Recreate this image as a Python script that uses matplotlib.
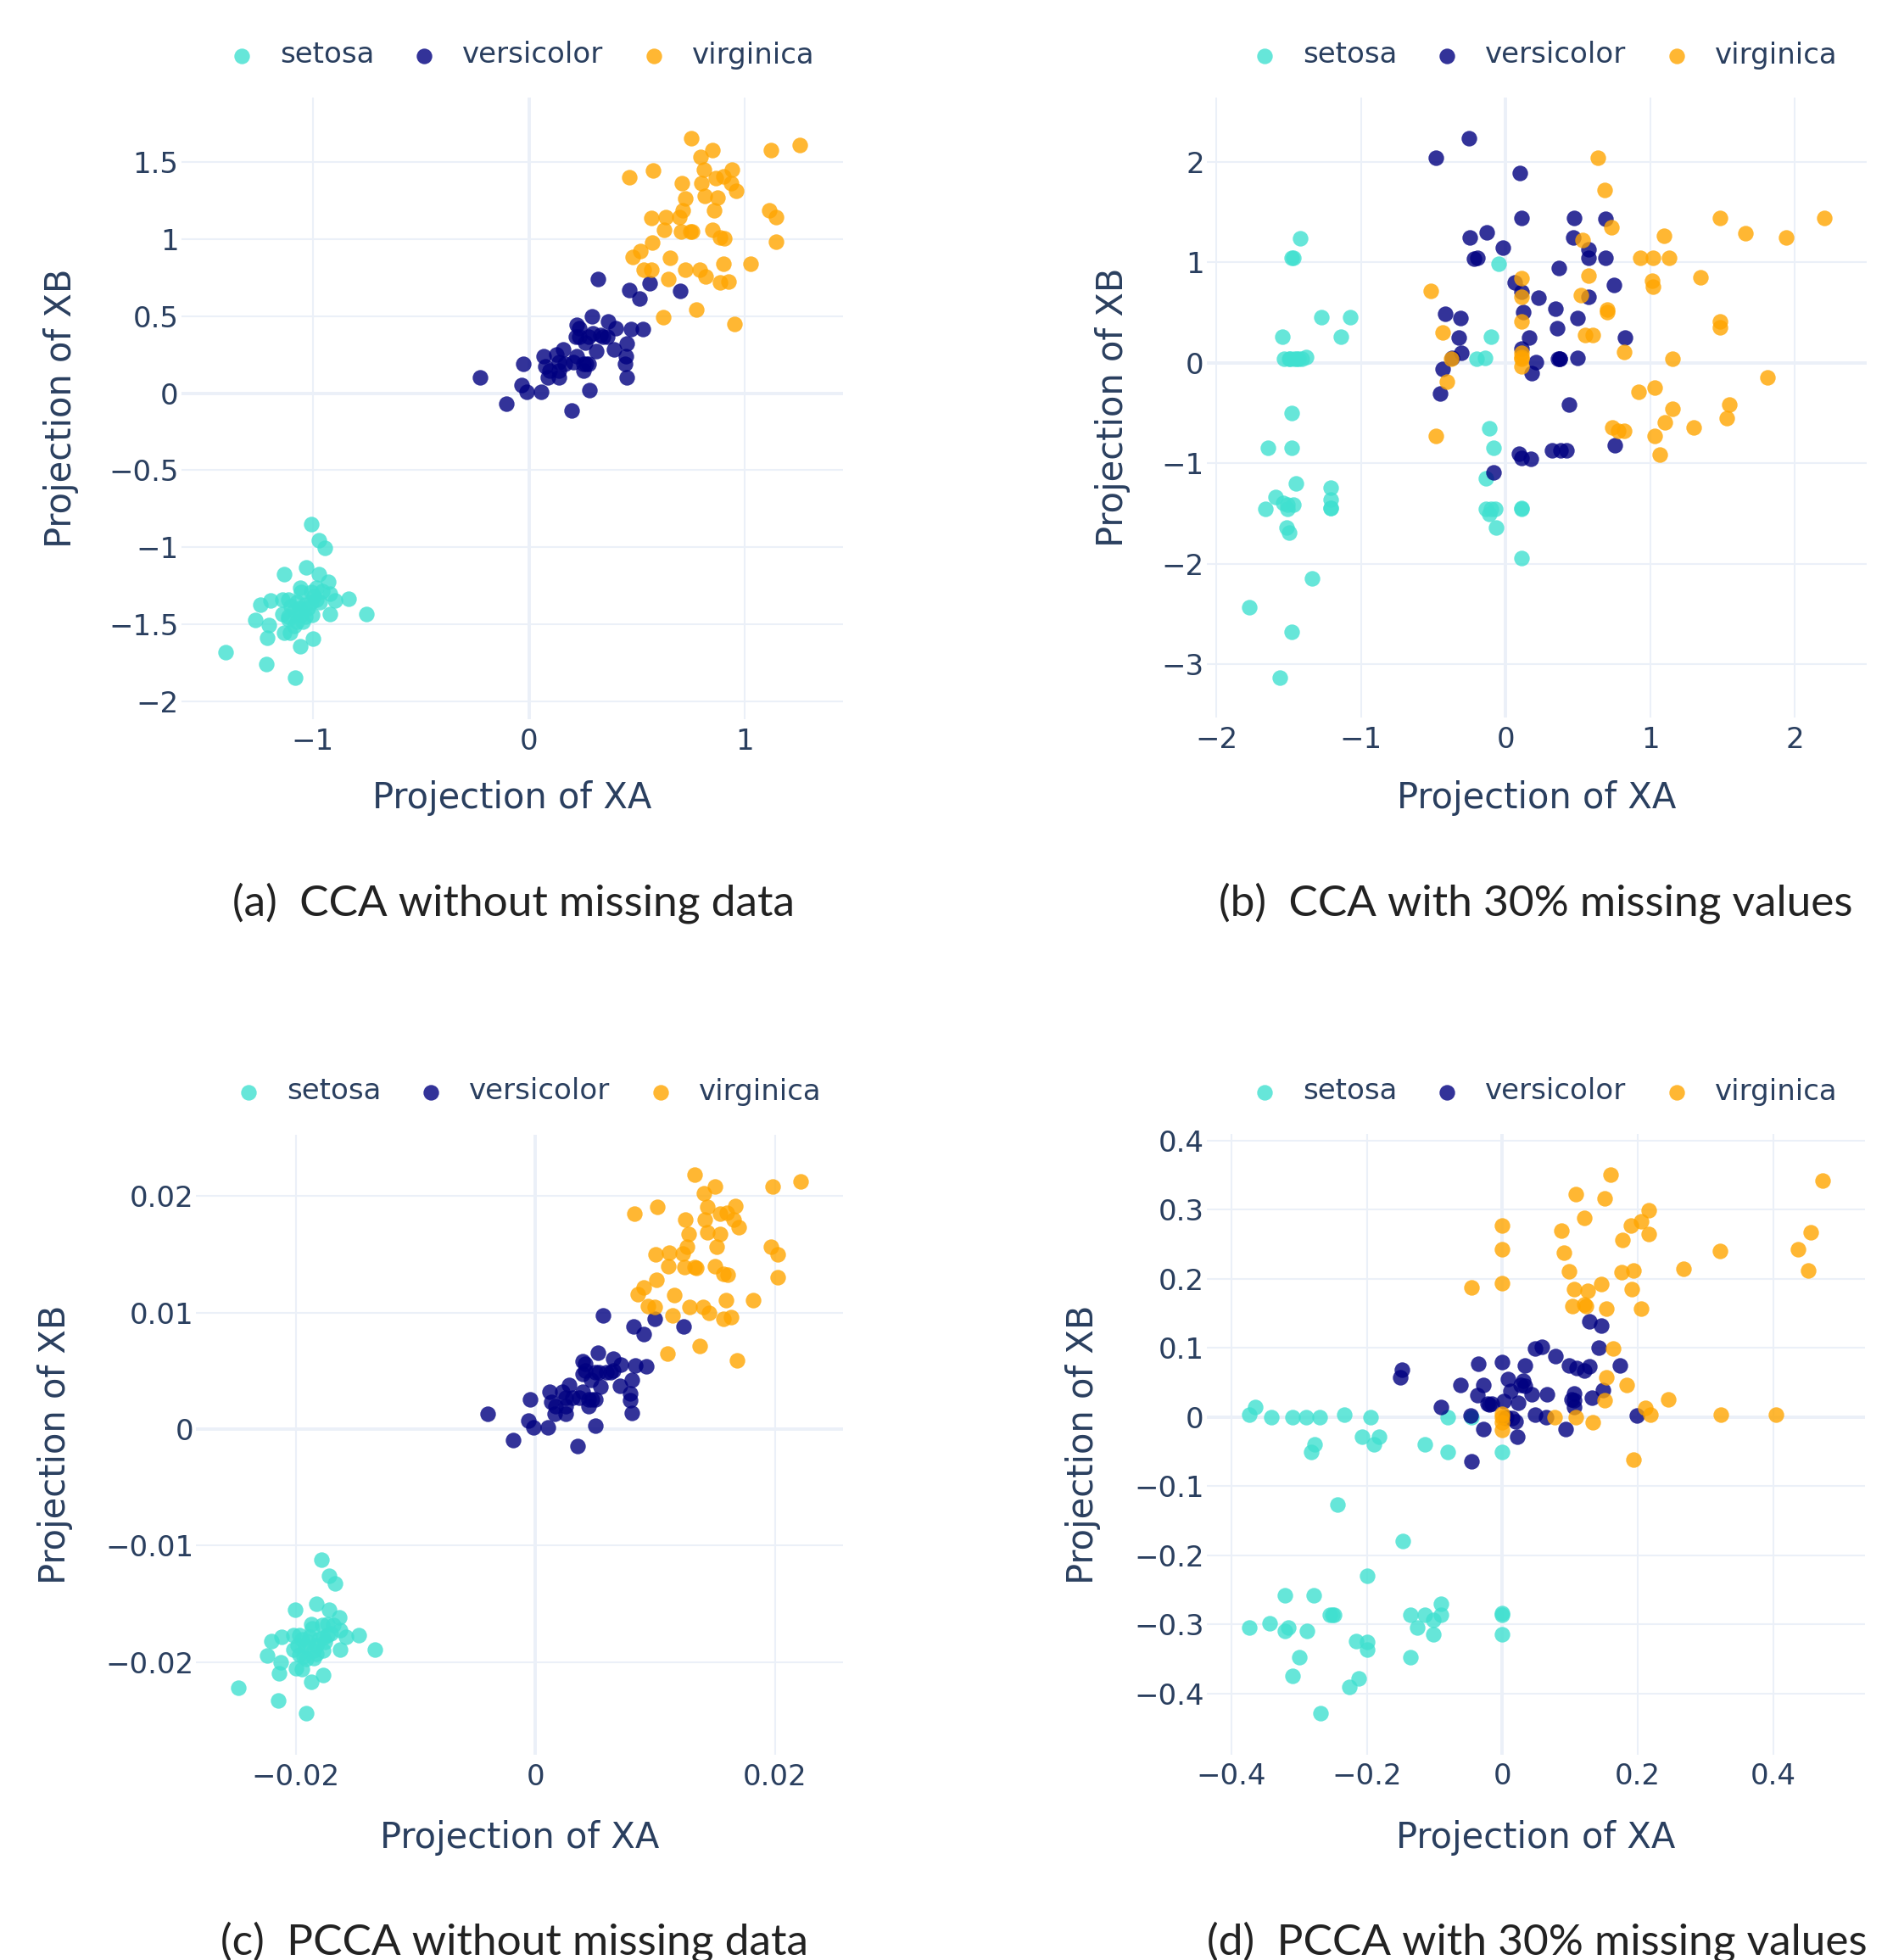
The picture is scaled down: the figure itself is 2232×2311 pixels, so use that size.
import matplotlib
matplotlib.use('Agg')
import matplotlib.pyplot as plt

# colours used by the traces
SETOSA = '#40E0D0'
VERSI = '#000080'
VIRGI = '#FFA500'
TXT = '#2a3f5f'
GRID = '#EBF0F8'

species = ['setosa', 'versicolor', 'virginica']

# ---------------- (a) CCA without missing data ----------------
a_setosa_x = [-1.008, -0.973, -0.942, -1.031, -1.132, -0.973, -0.929, -1.058, -0.982, -1.054, -0.919, -0.834, -1.194,
              -1.243, -1.139, -1.113, -0.897, -0.982, -1.073, -1.034, -0.995, -0.969, -0.753, -0.920, -1.267, -1.139,
              -1.086, -1.054, -1.001, -1.113, -1.201, -1.073, -1.034, -1.132, -1.106, -1.211, -0.999, -1.058, -1.403,
              -1.215, -1.080, -1.086, -1.060, -1.021, -1.099, -1.007, -1.047, -1.008, -0.956, -1.113]
a_setosa_y = [-0.848, -0.954, -1.006, -1.134, -1.173, -1.173, -1.226, -1.263, -1.266, -1.294, -1.303, -1.336, -1.349,
              -1.376, -1.340, -1.343, -1.349, -1.340, -1.358, -1.376, -1.321, -1.358, -1.432, -1.432, -1.472, -1.432,
              -1.413, -1.441, -1.441, -1.468, -1.509, -1.487, -1.450, -1.555, -1.555, -1.588, -1.597, -1.643, -1.680,
              -1.762, -1.850, -1.514, -1.395, -1.395, -1.386, -1.294, -1.487, -1.358, -1.285, -1.450]
a_versi_x = [-0.226, -0.105, -0.025, -0.035, -0.009, 0.058, 0.200, 0.281, 0.067, 0.076, 0.095, 0.089, 0.128, 0.157,
             0.141, 0.141, 0.204, 0.220, 0.252, 0.278, 0.252, 0.220, 0.233, 0.217, 0.294, 0.259, 0.298, 0.311, 0.331,
             0.363, 0.367, 0.403, 0.396, 0.452, 0.448, 0.444, 0.452, 0.471, 0.527, 0.318, 0.463, 0.512, 0.561, 0.701,
             0.265, 0.167, 0.141, 0.278, 0.344, 0.233]
a_versi_y = [0.101, -0.070, 0.193, 0.055, 0.009, 0.009, -0.110, 0.022, 0.239, 0.175, 0.147, 0.101, 0.249, 0.285,
             0.203, 0.101, 0.203, 0.239, 0.193, 0.193, 0.147, 0.442, 0.424, 0.368, 0.497, 0.331, 0.387, 0.276, 0.378,
             0.368, 0.464, 0.420, 0.285, 0.322, 0.239, 0.190, 0.105, 0.414, 0.414, 0.742, 0.668, 0.617, 0.715, 0.663,
             0.193, 0.193, 0.147, 0.368, 0.368, 0.368]
a_virgi_x = [0.752, 0.850, 0.795, 1.119, 1.252, 0.465, 0.573, 0.810, 0.939, 0.867, 0.899, 0.936, 0.958, 0.707, 0.797,
             0.723, 0.814, 0.873, 0.714, 0.856, 0.697, 0.567, 0.634, 1.112, 1.144, 0.625, 0.703, 0.749, 0.756, 0.850,
             0.886, 0.906, 1.144, 0.570, 0.514, 0.481, 0.654, 0.899, 1.026, 0.533, 0.566, 0.725, 0.791, 0.818, 0.644,
             0.886, 0.925, 0.622, 0.775, 0.952]
a_virgi_y = [1.657, 1.580, 1.538, 1.580, 1.611, 1.405, 1.446, 1.451, 1.455, 1.400, 1.409, 1.363, 1.317, 1.363, 1.366,
             1.267, 1.280, 1.271, 1.188, 1.188, 1.142, 1.136, 1.145, 1.188, 1.142, 1.059, 1.053, 1.053, 1.050, 1.064,
             1.013, 1.004, 0.985, 0.976, 0.926, 0.884, 0.880, 0.842, 0.842, 0.801, 0.801, 0.801, 0.801, 0.759, 0.742,
             0.718, 0.727, 0.494, 0.541, 0.448]

# ---------------- (b) CCA with 30% missing values ----------------
b_setosa_x = [-1.420, -1.479, -1.470, -0.050, -1.275, -1.077, -1.547, -1.142, -0.101, -1.533, -1.491, -1.447, -1.408,
              -1.379, -0.201, -0.145, -1.482, -1.645, -1.482, -0.115, -0.083, -1.453, -1.210, -1.210, -1.210, -1.592,
              -1.541, -1.660, -1.506, -1.470, -1.515, -1.497, -0.136, -0.136, -0.115, -0.071, -0.065, 0.107, 0.107,
              -1.340, -1.775, -1.482, -1.562, -1.506, 0.107, -0.101, -1.430, -1.500, -1.460, -1.210]
b_setosa_y = [1.243, 1.045, 1.045, 0.985, 0.456, 0.456, 0.258, 0.258, 0.258, 0.040, 0.040, 0.040, 0.040, 0.061,
              0.040, 0.048, -0.496, -0.847, -0.847, -0.650, -0.847, -1.199, -1.239, -1.360, -1.441, -1.332, -1.392,
              -1.453, -1.453, -1.412, -1.634, -1.687, -1.150, -1.453, -1.501, -1.453, -1.638, -1.453, -1.945, -2.143,
              -2.429, -2.676, -3.132, -1.412, -1.441, -1.453, 0.040, 0.040, 0.045, -1.441]
b_versi_x = [-0.251, -0.482, 0.101, 0.107, 0.476, 0.689, -0.246, -0.133, -0.018, 0.470, 0.574, 0.574, 0.692, -0.219,
             -0.195, 0.367, 0.062, 0.107, 0.225, 0.574, 0.751, 0.343, 0.497, 0.124, -0.420, -0.311, -0.325, -0.308,
             0.358, 0.163, 0.825, 0.107, 0.210, 0.180, 0.361, 0.373, 0.497, -0.435, -0.453, 0.438, 0.092, 0.107,
             0.172, 0.320, 0.379, 0.423, 0.757, -0.083, -0.371, 0.375]
b_versi_y = [2.240, 2.038, 1.893, 1.445, 1.445, 1.433, 1.247, 1.299, 1.146, 1.251, 1.130, 1.049, 1.049, 1.041, 1.049,
             0.948, 0.799, 0.706, 0.646, 0.654, 0.779, 0.537, 0.444, 0.504, 0.492, 0.444, 0.250, 0.101, 0.343, 0.250,
             0.250, 0.141, 0.008, -0.101, 0.040, 0.040, 0.048, -0.061, -0.303, -0.412, -0.900, -0.948, -0.956,
             -0.868, -0.868, -0.868, -0.819, -1.090, 0.051, 0.045]
b_virgi_x = [0.639, 0.686, 0.734, 0.533, 1.098, 1.482, 1.660, 1.938, 2.201, 0.932, 1.021, 1.133, 0.574, 0.107, 1.015,
             1.021, 1.349, -0.518, 0.107, 0.521, 0.704, 0.704, 0.107, -0.438, 0.550, 0.604, 1.482, 1.482, 0.820,
             1.154, -0.376, 0.107, 0.107, 0.107, -0.405, 1.811, 0.917, 1.033, 1.544, 1.530, 1.154, 1.101, 1.299,
             0.740, 0.781, 0.822, 1.033, 1.065, -0.485, 0.107]
b_virgi_y = [2.038, 1.723, 1.352, 1.223, 1.263, 1.445, 1.291, 1.247, 1.445, 1.049, 1.049, 1.049, 0.868, 0.847, 0.815,
             0.763, 0.851, 0.714, 0.658, 0.674, 0.533, 0.504, 0.412, 0.303, 0.274, 0.274, 0.412, 0.351, 0.109, 0.044,
             0.040, 0.101, 0.040, -0.032, -0.186, -0.141, -0.291, -0.246, -0.416, -0.545, -0.456, -0.593, -0.638,
             -0.638, -0.678, -0.678, -0.730, -0.908, -0.730, 0.060]

# ---------------- (c) PCCA without missing data ----------------
c_setosa_x = [-0.01785, -0.01722, -0.01670, -0.02002, -0.01825, -0.01722, -0.01639, -0.01870, -0.01733, -0.01863,
              -0.01627, -0.01474, -0.02116, -0.02200, -0.02017, -0.01969, -0.01580, -0.01733, -0.01899, -0.01828,
              -0.01769, -0.01710, -0.01337, -0.01627, -0.02241, -0.02017, -0.01922, -0.01851, -0.01769, -0.01969,
              -0.02123, -0.01910, -0.01828, -0.02000, -0.01950, -0.02142, -0.01769, -0.01870, -0.02476, -0.02146,
              -0.01910, -0.01934, -0.01887, -0.01804, -0.01946, -0.01781, -0.01851, -0.01757, -0.01686, -0.01981]
c_setosa_y = [-0.01124, -0.01260, -0.01328, -0.01551, -0.01502, -0.01551, -0.01617, -0.01672, -0.01672, -0.01709,
              -0.01728, -0.01769, -0.01782, -0.01823, -0.01769, -0.01769, -0.01782, -0.01769, -0.01830, -0.01854,
              -0.01794, -0.01757, -0.01893, -0.01893, -0.01947, -0.01891, -0.01866, -0.01903, -0.01903, -0.01939,
              -0.02000, -0.01976, -0.01927, -0.02053, -0.02061, -0.02097, -0.02109, -0.02170, -0.02218, -0.02328,
              -0.02442, -0.01951, -0.01782, -0.01806, -0.01806, -0.01684, -0.01964, -0.01830, -0.01684, -0.01854]
c_versi_x = [-0.00399, -0.00186, -0.00042, -0.00061, -0.00017, 0.00101, 0.00354, 0.00498, 0.00120, 0.00132, 0.00167,
             0.00160, 0.00226, 0.00278, 0.00250, 0.00250, 0.00368, 0.00396, 0.00443, 0.00498, 0.00443, 0.00392,
             0.00415, 0.00392, 0.00521, 0.00462, 0.00528, 0.00545, 0.00592, 0.00646, 0.00651, 0.00710, 0.00703,
             0.00804, 0.00792, 0.00788, 0.00802, 0.00835, 0.00927, 0.00561, 0.00821, 0.00906, 0.00993, 0.01236,
             0.00474, 0.00309, 0.00250, 0.00498, 0.00627, 0.00415]
c_versi_y = [0.00133, -0.00092, 0.00255, 0.00073, 0.00017, 0.00017, -0.00146, 0.00032, 0.00316, 0.00231, 0.00194,
             0.00129, 0.00316, 0.00376, 0.00267, 0.00133, 0.00267, 0.00316, 0.00255, 0.00255, 0.00194, 0.00583,
             0.00558, 0.00473, 0.00655, 0.00425, 0.00490, 0.00364, 0.00485, 0.00600, 0.00498, 0.00551, 0.00371,
             0.00425, 0.00308, 0.00248, 0.00138, 0.00546, 0.00541, 0.00978, 0.00881, 0.00813, 0.00942, 0.00879,
             0.00255, 0.00267, 0.00194, 0.00485, 0.00485, 0.00498]
c_virgi_x = [0.01330, 0.01500, 0.01406, 0.01979, 0.02215, 0.00825, 0.01014, 0.01434, 0.01665, 0.01542, 0.01594,
             0.01653, 0.01693, 0.01250, 0.01413, 0.01278, 0.01434, 0.01542, 0.01264, 0.01514, 0.01231, 0.01000,
             0.01118, 0.01967, 0.02019, 0.01106, 0.01245, 0.01330, 0.01340, 0.01500, 0.01571, 0.01606, 0.02019,
             0.01009, 0.00906, 0.00851, 0.01156, 0.01587, 0.01814, 0.00941, 0.00995, 0.01283, 0.01401, 0.01446,
             0.01142, 0.01566, 0.01634, 0.01099, 0.01370, 0.01679]
c_virgi_y = [0.02184, 0.02080, 0.02022, 0.02083, 0.02124, 0.01850, 0.01905, 0.01910, 0.01917, 0.01845, 0.01857,
             0.01796, 0.01735, 0.01796, 0.01796, 0.01670, 0.01687, 0.01675, 0.01566, 0.01561, 0.01505, 0.01498,
             0.01512, 0.01566, 0.01500, 0.01396, 0.01388, 0.01388, 0.01383, 0.01400, 0.01328, 0.01323, 0.01299,
             0.01282, 0.01218, 0.01160, 0.01153, 0.01109, 0.01104, 0.01056, 0.01051, 0.01051, 0.01051, 0.00995,
             0.00976, 0.00947, 0.00959, 0.00650, 0.00709, 0.00587]

# ---------------- (d) PCCA with 30% missing values ----------------
d_setosa_x = [-0.374, -0.365, -0.341, -0.310, -0.290, -0.270, -0.233, -0.195, -0.277, -0.282, -0.207, -0.190, -0.182,
              -0.114, -0.080, -0.080, -0.046, 0.000, -0.243, -0.147, -0.199, -0.321, -0.278, -0.255, -0.248, -0.374,
              -0.343, -0.316, -0.321, -0.288, -0.136, -0.114, -0.091, -0.091, -0.102, -0.125, -0.102, 0.000, 0.000,
              0.000, -0.216, -0.199, -0.199, -0.299, -0.136, -0.309, -0.212, -0.226, -0.268, -0.251]
d_setosa_y = [0.004, 0.015, 0.000, 0.000, 0.000, 0.000, 0.004, 0.000, -0.039, -0.051, -0.029, -0.039, -0.029, -0.039,
              0.000, -0.051, 0.000, -0.051, -0.127, -0.179, -0.230, -0.258, -0.258, -0.286, -0.286, -0.304, -0.298,
              -0.304, -0.310, -0.309, -0.286, -0.286, -0.270, -0.286, -0.293, -0.304, -0.314, -0.286, -0.284, -0.314,
              -0.324, -0.326, -0.337, -0.347, -0.347, -0.375, -0.378, -0.391, -0.429, -0.286]
d_versi_x = [-0.148, -0.151, -0.091, -0.062, -0.035, 0.000, 0.033, -0.028, -0.037, -0.022, -0.019, 0.002, 0.008,
             0.012, 0.024, 0.031, 0.034, 0.044, -0.047, -0.028, 0.015, 0.020, 0.022, 0.049, 0.065, 0.066, 0.049,
             0.058, 0.078, 0.099, 0.110, 0.121, 0.129, 0.106, 0.106, 0.106, 0.132, 0.148, 0.173, 0.142, 0.129, 0.146,
             0.093, 0.198, -0.046, 0.006, -0.015, 0.027, 0.102, 0.004]
d_versi_y = [0.069, 0.057, 0.015, 0.047, 0.077, 0.079, 0.074, 0.047, 0.032, 0.019, 0.018, 0.023, 0.055, 0.038, 0.021,
             0.052, 0.045, 0.033, 0.002, -0.018, -0.001, -0.006, -0.028, 0.004, 0.000, 0.033, 0.099, 0.102, 0.088,
             0.074, 0.071, 0.067, 0.073, 0.034, 0.024, 0.014, 0.028, 0.039, 0.075, 0.100, 0.138, 0.132, -0.018,
             0.002, -0.064, 0.000, 0.020, 0.047, 0.026, -0.002]
d_virgi_x = [0.160, 0.109, 0.151, 0.216, 0.473, 0.000, 0.000, 0.121, 0.087, 0.190, 0.205, 0.216, 0.177, 0.091, 0.321,
             0.455, 0.436, 0.452, 0.268, 0.176, 0.193, 0.000, -0.045, 0.099, 0.146, 0.191, 0.106, 0.126, 0.103, 0.121,
             0.123, 0.154, 0.205, 0.163, 0.154, 0.183, 0.151, 0.245, 0.211, 0.219, 0.323, 0.404, 0.108, 0.077, 0.134,
             0.194, 0.000, 0.000, 0.000, 0.000]
d_virgi_y = [0.351, 0.323, 0.316, 0.299, 0.342, 0.277, 0.243, 0.288, 0.270, 0.277, 0.283, 0.265, 0.256, 0.238, 0.240,
             0.267, 0.243, 0.212, 0.215, 0.210, 0.212, 0.194, 0.187, 0.211, 0.193, 0.185, 0.185, 0.182, 0.160, 0.163,
             0.160, 0.157, 0.157, 0.099, 0.057, 0.047, 0.024, 0.025, 0.013, 0.004, 0.003, 0.003, 0.000, 0.000, -0.008,
             -0.062, 0.000, -0.007, -0.019, 0.005]

# ticks per panel
a_xticks, a_xlabels = [-1, 0, 1], ['\u22121', '0', '1']
a_yticks = [-2, -1.5, -1, -0.5, 0, 0.5, 1, 1.5]
a_ylabels = ['\u22122', '\u22121.5', '\u22121', '\u22120.5', '0', '0.5', '1', '1.5']
b_xticks, b_xlabels = [-2, -1, 0, 1, 2], ['\u22122', '\u22121', '0', '1', '2']
b_yticks, b_ylabels = [-3, -2, -1, 0, 1, 2], ['\u22123', '\u22122', '\u22121', '0', '1', '2']
c_xticks, c_xlabels = [-0.02, 0, 0.02], ['\u22120.02', '0', '0.02']
c_yticks = [-0.02, -0.01, 0, 0.01, 0.02]
c_ylabels = ['\u22120.02', '\u22120.01', '0', '0.01', '0.02']
d_xticks, d_xlabels = [-0.4, -0.2, 0, 0.2, 0.4], ['\u22120.4', '\u22120.2', '0', '0.2', '0.4']
d_yticks = [-0.4, -0.3, -0.2, -0.1, 0, 0.1, 0.2, 0.3, 0.4]
d_ylabels = ['\u22120.4', '\u22120.3', '\u22120.2', '\u22120.1', '0', '0.1', '0.2', '0.3', '0.4']

captions = ['(a)  CCA without missing data', '(b)  CCA with 30% missing values',
            '(c)  PCCA without missing data', '(d)  PCCA with 30% missing values']

W, H = 2232, 2311
fig = plt.figure(figsize=(W / 100, H / 100), dpi=100)


def px_box(x0, y0, x1, y1):
    # pixel box (top-left origin) -> figure fraction rect
    return [x0 / W, 1 - y1 / H, (x1 - x0) / W, (y1 - y0) / H]


def panel(rect, pts, xlim, ylim, xt, xl, yt, yl, xlab_y, ylab_x, leg_xy):
    ax = fig.add_axes(rect)
    ax.set_xlim(*xlim)
    ax.set_ylim(*ylim)
    ax.set_axisbelow(True)
    for s in ax.spines.values():
        s.set_visible(False)
    ax.set_xticks(xt)
    ax.set_xticklabels(xl)
    ax.set_yticks(yt)
    ax.set_yticklabels(yl)
    ax.tick_params(length=0, labelsize=24.5, labelcolor=TXT)
    ax.tick_params(axis='x', pad=7)
    ax.tick_params(axis='y', pad=2)
    ax.grid(True, color=GRID, lw=1.5)
    ax.axhline(0, color=GRID, lw=2.8, zorder=1)
    ax.axvline(0, color=GRID, lw=2.8, zorder=1)

    for (x, y), col, name in zip(pts, [SETOSA, VERSI, VIRGI], species):
        ax.scatter(x, y, s=175, color=col, alpha=0.8, linewidths=0, label=name, zorder=2)

    ax.set_xlabel('Projection of XA', fontsize=30, color=TXT, va='baseline')
    ax.xaxis.set_label_coords(0.5, xlab_y)
    ax.set_ylabel('Projection of XB', fontsize=30, color=TXT, va='baseline', rotation_mode='anchor')
    ax.yaxis.set_label_coords(ylab_x, 0.5)

    ax.legend(loc='center', bbox_to_anchor=(leg_xy[0] / W, 1 - leg_xy[1] / H), bbox_transform=fig.transFigure,
              ncol=3, frameon=False, borderpad=0, handlelength=1.0, handletextpad=0.82, columnspacing=1.24,
              fontsize=24.5, labelcolor=TXT, scatterpoints=1)
    return ax


panel(px_box(213.5, 115, 994.3, 848),
      [(a_setosa_x, a_setosa_y), (a_versi_x, a_versi_y), (a_virgi_x, a_virgi_y)],
      (-1.609, 1.455), (-2.118, 1.921), a_xticks, a_xlabels, a_yticks, a_ylabels,
      -0.1432, -0.1659, (614, 65))

panel(px_box(1422.5, 115, 2201, 846.5),
      [(b_setosa_x, b_setosa_y), (b_versi_x, b_versi_y), (b_virgi_x, b_virgi_y)],
      (-2.069, 2.497), (-3.532, 2.641), b_xticks, b_xlabels, b_yticks, b_ylabels,
      -0.1456, -0.1259, (1820, 65))

panel(px_box(231, 1338.3, 994.3, 2069),
      [(c_setosa_x, c_setosa_y), (c_versi_x, c_versi_y), (c_virgi_x, c_virgi_y)],
      (-0.02833, 0.02569), (-0.02796, 0.02523), c_xticks, c_xlabels, c_yticks, c_ylabels,
      -0.1505, -0.2018, (622, 1287))

panel(px_box(1422.5, 1337, 2199, 2068.5),
      [(d_setosa_x, d_setosa_y), (d_versi_x, d_versi_y), (d_virgi_x, d_virgi_y)],
      (-0.4366, 0.5353), (-0.488, 0.4096), d_xticks, d_xlabels, d_yticks, d_ylabels,
      -0.1511, -0.1719, (1820, 1287))

# sub-figure captions
cap_pos = [(605, 1080), (1811, 1080), (606, 2304), (1812, 2304)]
for txt, (cx, cy) in zip(captions, cap_pos):
    fig.text(cx / W, 1 - cy / H, txt, ha='center', va='baseline', fontsize=37,
             family='Lato', weight='normal', color='#222222')

fig.savefig('out.png', dpi=100)
